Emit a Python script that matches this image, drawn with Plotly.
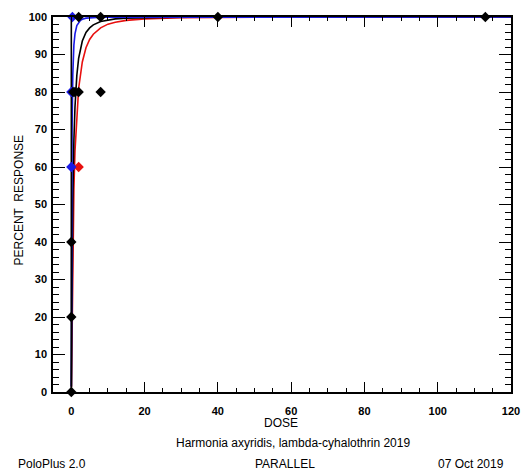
import plotly.graph_objects as go

# Fitted curves
black_dose = [0.02, 0.05, 0.1, 0.2, 0.4, 0.7, 1, 1.5, 2, 3, 4, 5, 6, 8, 10, 12, 15, 20, 25, 40, 120]
black_pct = [1.5, 6.7, 16.6, 31.6, 51, 67, 76, 84.4, 89, 93.6, 95.9, 97.1, 97.9, 98.8, 99.2, 99.5, 99.66, 99.83, 99.9, 99.98, 100]
red_dose = [0.03, 0.05, 0.1, 0.2, 0.4, 0.7, 1, 1.5, 2, 3, 4, 5, 6, 8, 10, 12, 15, 20, 25, 30, 40, 50, 120]
red_pct = [1.3, 3.3, 9.2, 20.6, 37.8, 54, 64.3, 74.7, 81, 88, 91.8, 94, 95.4, 97.1, 98.1, 98.6, 99.1, 99.5, 99.7, 99.8, 99.9, 99.95, 100]
blue_dose = [0.005, 0.01, 0.03, 0.06, 0.1, 0.2, 0.4, 0.5, 0.7, 1, 1.5, 2.5, 3, 4, 6, 8, 120]
blue_pct = [1.4, 4.5, 18.7, 35, 50, 69.5, 84.6, 88.3, 92.5, 95.5, 97.7, 99.1, 99.4, 99.7, 99.87, 99.95, 100]

# Observed points
black_pts_x = [0, 0, 0, 0.5, 1, 2, 8, 2, 8, 40, 113]
black_pts_y = [0, 20, 40, 80, 80, 80, 80, 100, 100, 100, 100]
red_pts_x = [2]
red_pts_y = [60]
blue_pts_x = [0, 0, 0.3]
blue_pts_y = [60, 80, 100]

BLACK = "#000000"
RED = "#e8100f"
BLUE = "#1a1ae6"

fig = go.Figure()
fig.add_trace(go.Scatter(x=red_dose, y=red_pct, mode="lines", line=dict(color=RED, width=1.6), showlegend=False))
fig.add_trace(go.Scatter(x=black_dose, y=black_pct, mode="lines", line=dict(color=BLACK, width=1.6), showlegend=False))
fig.add_trace(go.Scatter(x=blue_dose, y=blue_pct, mode="lines", line=dict(color=BLUE, width=1.6), showlegend=False))
fig.add_trace(go.Scatter(x=[0, 0], y=[0, 100], mode="lines", line=dict(color=BLACK, width=1.6), showlegend=False))
fig.add_trace(go.Scatter(x=red_pts_x, y=red_pts_y, mode="markers", cliponaxis=False, marker=dict(symbol="diamond", size=8, color=RED), showlegend=False))
fig.add_trace(go.Scatter(x=blue_pts_x, y=blue_pts_y, mode="markers", cliponaxis=False, marker=dict(symbol="diamond", size=8, color=BLUE), showlegend=False))
fig.add_trace(go.Scatter(x=black_pts_x, y=black_pts_y, mode="markers", cliponaxis=False, marker=dict(symbol="diamond", size=8, color=BLACK), showlegend=False))

tickfont = dict(family="Liberation Sans, Arial, sans-serif", size=11, color="black", weight="bold")
fig.update_xaxes(range=[-5, 120], tickmode="array", tickvals=[0, 20, 40, 60, 80, 100, 120],
                 ticks="inside", ticklen=10, tickwidth=1.2, tickcolor="black",
                 minor=dict(dtick=5, tick0=0, ticks="inside", ticklen=4, tickcolor="black", tickwidth=1),
                 showline=True, linecolor="black", linewidth=1.5, mirror="ticks",
                 showgrid=False, zeroline=False, tickfont=tickfont, ticklabelstandoff=8)
fig.update_yaxes(range=[0, 100], tickmode="array", tickvals=list(range(0, 101, 10)),
                 ticks="inside", ticklen=12, tickwidth=1.2, tickcolor="black",
                 minor=dict(dtick=2, tick0=0, ticks="inside", ticklen=6, tickcolor="black", tickwidth=1),
                 showline=True, linecolor="black", linewidth=1.5, mirror="ticks",
                 showgrid=False, zeroline=False, tickfont=tickfont, ticklabelstandoff=2)

font = dict(family="Liberation Sans, Arial, sans-serif", size=12, color="black")
ann = [
    dict(text="DOSE", x=0.497, y=-31 / 375, xref="paper", yref="paper", showarrow=False, xanchor="center", yanchor="middle", font=font),
    dict(text="PERCENT  RESPONSE", x=-35 / 467, y=0.51, xref="paper", yref="paper", showarrow=False, textangle=-90, xanchor="center", yanchor="middle", font=font),
    dict(text="Harmonia axyridis, lambda-cyhalothrin 2019", x=(298 - 53) / 467, y=-51 / 375, xref="paper", yref="paper", showarrow=False, xanchor="center", yanchor="middle", font=font),
    dict(text="PoloPlus 2.0", x=(15 - 53) / 467, y=-72 / 375, xref="paper", yref="paper", showarrow=False, xanchor="left", yanchor="middle", font=font),
    dict(text="PARALLEL", x=(290 - 53) / 467, y=-72 / 375, xref="paper", yref="paper", showarrow=False, xanchor="center", yanchor="middle", font=font),
    dict(text="07 Oct 2019", x=(515 - 53) / 467, y=-72 / 375, xref="paper", yref="paper", showarrow=False, xanchor="right", yanchor="middle", font=font),
]
fig.update_layout(width=530, height=470, margin=dict(l=53, r=10, t=17, b=78),
                  paper_bgcolor="white", plot_bgcolor="white", annotations=ann, showlegend=False)
fig.write_html("out.html")
